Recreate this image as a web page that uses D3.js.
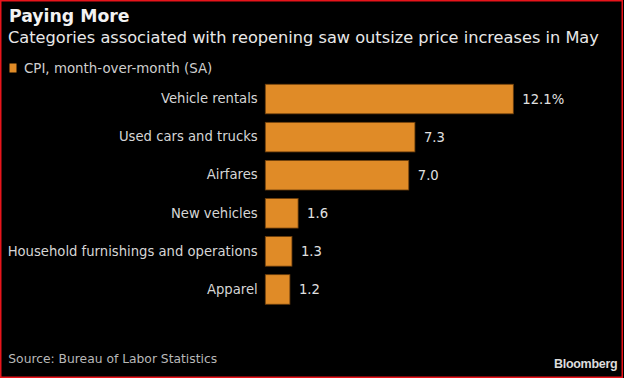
<!DOCTYPE html>
<html><head><meta charset="utf-8">
<script src="https://cdn.jsdelivr.net/npm/d3@7"></script>
<style>
html,body{margin:0;padding:0;background:#000;}
svg{display:block;}
text{font-family:"DejaVu Sans",sans-serif;}
</style></head>
<body>
<svg id="chart" width="624" height="378"></svg>
<script>
const categories = ["Vehicle rentals","Used cars and trucks","Airfares","New vehicles","Household furnishings and operations","Apparel"];
const values = [12.1, 7.3, 7.0, 1.6, 1.3, 1.2];
const valueLabels = ["12.1%","7.3","7.0","1.6","1.3","1.2"];
const title = "Paying More";
const subtitle = "Categories associated with reopening saw outsize price increases in May";
const legendLabel = "CPI, month-over-month (SA)";
const source = "Source: Bureau of Labor Statistics";

const svg = d3.select("#chart");
const W = 624, H = 378;
svg.append("rect").attr("x",0).attr("y",0).attr("width",W).attr("height",H).attr("fill","#000");

const x = d3.scaleLinear().domain([0, 12.1]).range([265.3, 513.3]);
const y = d3.scaleBand().domain(categories).range([80, 308.5]).paddingInner(0.224).paddingOuter(0.112);

svg.append("text").attr("x",9).attr("y",22).attr("fill","#f2f2f2")
  .attr("font-size",17.3).attr("font-weight","bold").text(title);
svg.append("text").attr("x",8).attr("y",43.3).attr("fill","#e8e8e8")
  .attr("font-size",16.2).text(subtitle);

svg.append("rect").attr("x",9.5).attr("y",63.5).attr("width",7).attr("height",9)
  .attr("fill","#e08b27");
svg.append("text").attr("x",24).attr("y",72.7).attr("fill","#cfcfcf")
  .attr("font-size",13.4).text(legendLabel);

const g = svg.append("g");
g.selectAll("rect.bar").data(categories).join("rect").attr("class","bar")
  .attr("x", x(0)).attr("y", d => y(d))
  .attr("width", (d,i) => x(values[i]) - x(0)).attr("height", y.bandwidth())
  .attr("fill","#e08b27").attr("stroke","#6e3f0c").attr("stroke-width",0.8);

const yAxis = d3.axisLeft(y).tickSize(0).tickPadding(7.6);
const ag = svg.append("g").attr("transform",`translate(${x(0)},0)`).call(yAxis);
ag.select(".domain").remove();
ag.selectAll("text").attr("fill","#d6d6d6").attr("font-size",13.2)
  .style("font-family",'"DejaVu Sans",sans-serif');

g.selectAll("text.val").data(categories).join("text").attr("class","val")
  .attr("x",(d,i) => x(values[i]) + 9).attr("y", d => y(d) + y.bandwidth()/2)
  .attr("dy","0.35em").attr("fill","#e0e0e0").attr("font-size",13.2)
  .text((d,i) => valueLabels[i]);

svg.append("text").attr("x",8.3).attr("y",362.7).attr("fill","#b8b8b8")
  .attr("font-size",12.3).text(source);
svg.append("text").attr("x",617.3).attr("y",367.5).attr("text-anchor","end")
  .attr("fill","#dcdcdc").attr("font-size",12.5).attr("font-weight","bold")
  .style("font-family",'"Liberation Sans",Arial,sans-serif').style("letter-spacing","-0.3px").text("Bloomberg");

svg.append("rect").attr("x",0.75).attr("y",0.75).attr("width",W-2.5).attr("height",H-1.5)
  .attr("fill","none").attr("stroke","#e8141b").attr("stroke-width",1.5);
</script>
</body></html>
